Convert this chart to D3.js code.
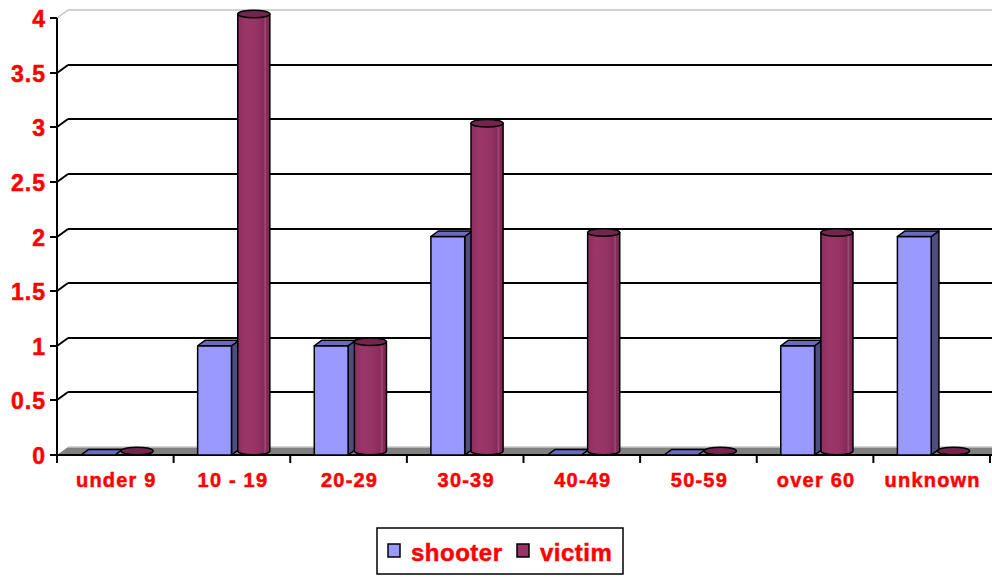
<!DOCTYPE html>
<html>
<head>
<meta charset="utf-8">
<script src="https://cdn.jsdelivr.net/npm/d3@7"></script>
<style>
  body { margin: 0; background: #fff; }
  svg { display: block; font-family: "Liberation Sans", Arial, sans-serif; }
  .lbl { fill: #ff0000; stroke: #ff0000; stroke-width: 0.5px; font-weight: bold; }
</style>
</head>
<body>
<svg width="992" height="577"></svg>
<script>
var categories = ["under 9", "10 - 19", "20-29", "30-39", "40-49", "50-59", "over 60", "unknown"];
var shooter = [0, 1, 1, 2, 0, 0, 1, 2];
var victim = [0, 4, 1, 3, 2, 0, 2, 0];
var yTicks = [0, 0.5, 1, 1.5, 2, 2.5, 3, 3.5, 4];
var yTickLabels = ["0", "0.5", "1", "1.5", "2", "2.5", "3", "3.5", "4"];
var seriesNames = ["shooter", "victim"];

var svg = d3.select("svg");

var left = 57, right = 992, bottom = 455;
// depth offset of the back wall / of a bar
var wx = 11, wy = -8;
var bx = 7.7, by = -5.6;

var x = d3.scaleBand().domain(categories).range([left, 990]).paddingInner(0);
var y = d3.scaleLinear().domain([0, 4]).range([bottom, 18]);
var bw = x.bandwidth();

// cylinder shading
var defs = svg.append("defs");
var grad = defs.append("linearGradient").attr("id", "cyl");
[["0%", "#8c2e5d"], ["25%", "#9b3668"], ["60%", "#963365"], ["80%", "#862c59"],
 ["86%", "#a3467a"], ["90%", "#842b57"], ["100%", "#7a2751"]].forEach(function(s) {
    grad.append("stop").attr("offset", s[0]).attr("stop-color", s[1]);
});

// floor
svg.append("path")
    .attr("d", "M" + left + "," + bottom + "L" + (left + wx) + "," + (bottom + wy) +
        "L" + right + "," + (bottom + wy) + "L" + right + "," + bottom + "Z")
    .attr("fill", "#808080");
svg.append("line")
    .attr("x1", left + wx).attr("y1", bottom + wy).attr("x2", right).attr("y2", bottom + wy)
    .attr("stroke", "#c8c8c8").attr("stroke-width", 1.5);

// gridlines on back wall
var grid = svg.append("g");
yTicks.forEach(function(t) {
    if (t === 0) return;
    var col = t === 4 ? "#c0c0c0" : "#000";
    var yy = Math.round(y(t));
    grid.append("line")
        .attr("x1", left + wx).attr("x2", right)
        .attr("y1", yy + wy).attr("y2", yy + wy)
        .attr("stroke", col).attr("stroke-width", t === 4 ? 1.5 : 2);
    grid.append("line")
        .attr("x1", left).attr("y1", yy)
        .attr("x2", left + wx).attr("y2", yy + wy)
        .attr("stroke", col).attr("stroke-width", t === 4 ? 1.5 : 2);
});

// axes
svg.append("line").attr("x1", left).attr("x2", left).attr("y1", y(4)).attr("y2", bottom + 8)
    .attr("stroke", "#000").attr("stroke-width", 2);
svg.append("line").attr("x1", left).attr("x2", right).attr("y1", bottom).attr("y2", bottom)
    .attr("stroke", "#000").attr("stroke-width", 2);

yTicks.forEach(function(t, i) {
    var yy = Math.round(y(t));
    svg.append("line").attr("x1", left - 7).attr("x2", left).attr("y1", yy).attr("y2", yy)
        .attr("stroke", "#000").attr("stroke-width", 2);
    svg.append("text").attr("class", "lbl")
        .attr("x", 46).attr("y", yy + 8.5)
        .attr("text-anchor", "end")
        .style("font-size", "23px").style("letter-spacing", "1px")
        .text(yTickLabels[i]);
});

categories.forEach(function(c, i) {
    var xe = x(c) + bw;
    svg.append("line").attr("x1", xe).attr("x2", xe).attr("y1", bottom).attr("y2", bottom + 8)
        .attr("stroke", "#000").attr("stroke-width", 2);
    svg.append("text").attr("class", "lbl")
        .attr("x", x(c) + bw / 2 + 1).attr("y", 487)
        .attr("text-anchor", "middle")
        .style("font-size", "20px").style("letter-spacing", "1.2px")
        .text(c);
});

// bars
var bars = svg.append("g").attr("stroke", "#000").attr("stroke-width", 1.5).attr("stroke-linejoin", "round");
categories.forEach(function(c, i) {
    // shooter: box
    var x0 = x(c) + bw * 0.206, x1 = x0 + bw * 0.29, yt = y(shooter[i]);
    if (shooter[i] > 0) {
        bars.append("path")
            .attr("d", "M" + x1 + "," + yt + "L" + (x1 + bx) + "," + (yt + by) +
                "L" + (x1 + bx) + "," + (bottom + by) + "L" + x1 + "," + bottom + "Z")
            .attr("fill", "#4d4d80");
        bars.append("rect").attr("x", x0).attr("y", yt).attr("width", x1 - x0).attr("height", bottom - yt)
            .attr("fill", "#9999ff");
    }
    bars.append("path")
        .attr("d", "M" + x0 + "," + yt + "L" + (x0 + bx) + "," + (yt + by) +
            "L" + (x1 + bx) + "," + (yt + by) + "L" + x1 + "," + yt + "Z")
        .attr("fill", "#6b6bbd");

    // victim: cylinder
    var cx0 = x(c) + bw * 0.55, cw = bw * 0.275, ccx = cx0 + cw / 2;
    var ry = 3.8, ytop = y(victim[i]) - 4, ybot = bottom - 4;
    if (victim[i] > 0) {
        bars.append("path")
            .attr("d", "M" + cx0 + "," + ytop + "L" + cx0 + "," + ybot +
                "A" + (cw / 2) + "," + ry + " 0 0 0 " + (cx0 + cw) + "," + ybot +
                "L" + (cx0 + cw) + "," + ytop + "Z")
            .attr("fill", "url(#cyl)");
    }
    bars.append("ellipse").attr("cx", ccx).attr("cy", ytop).attr("rx", cw / 2).attr("ry", ry)
        .attr("fill", "#73264d");
});

// legend
var lg = svg.append("g");
lg.append("rect").attr("x", 377).attr("y", 528).attr("width", 246).attr("height", 46)
    .attr("fill", "#fff").attr("stroke", "#000").attr("stroke-width", 1.5);
var lgX = [388, 517], lgCol = ["#9999ff", "#993366"];
seriesNames.forEach(function(s, i) {
    lg.append("rect").attr("x", lgX[i]).attr("y", 544).attr("width", 12).attr("height", 13)
        .attr("fill", lgCol[i]).attr("stroke", "#000").attr("stroke-width", 1.5);
    lg.append("text").attr("class", "lbl")
        .attr("x", lgX[i] + 23).attr("y", 561)
        .style("font-size", "24px").style("letter-spacing", "0.5px")
        .text(s);
});
</script>
</body>
</html>
